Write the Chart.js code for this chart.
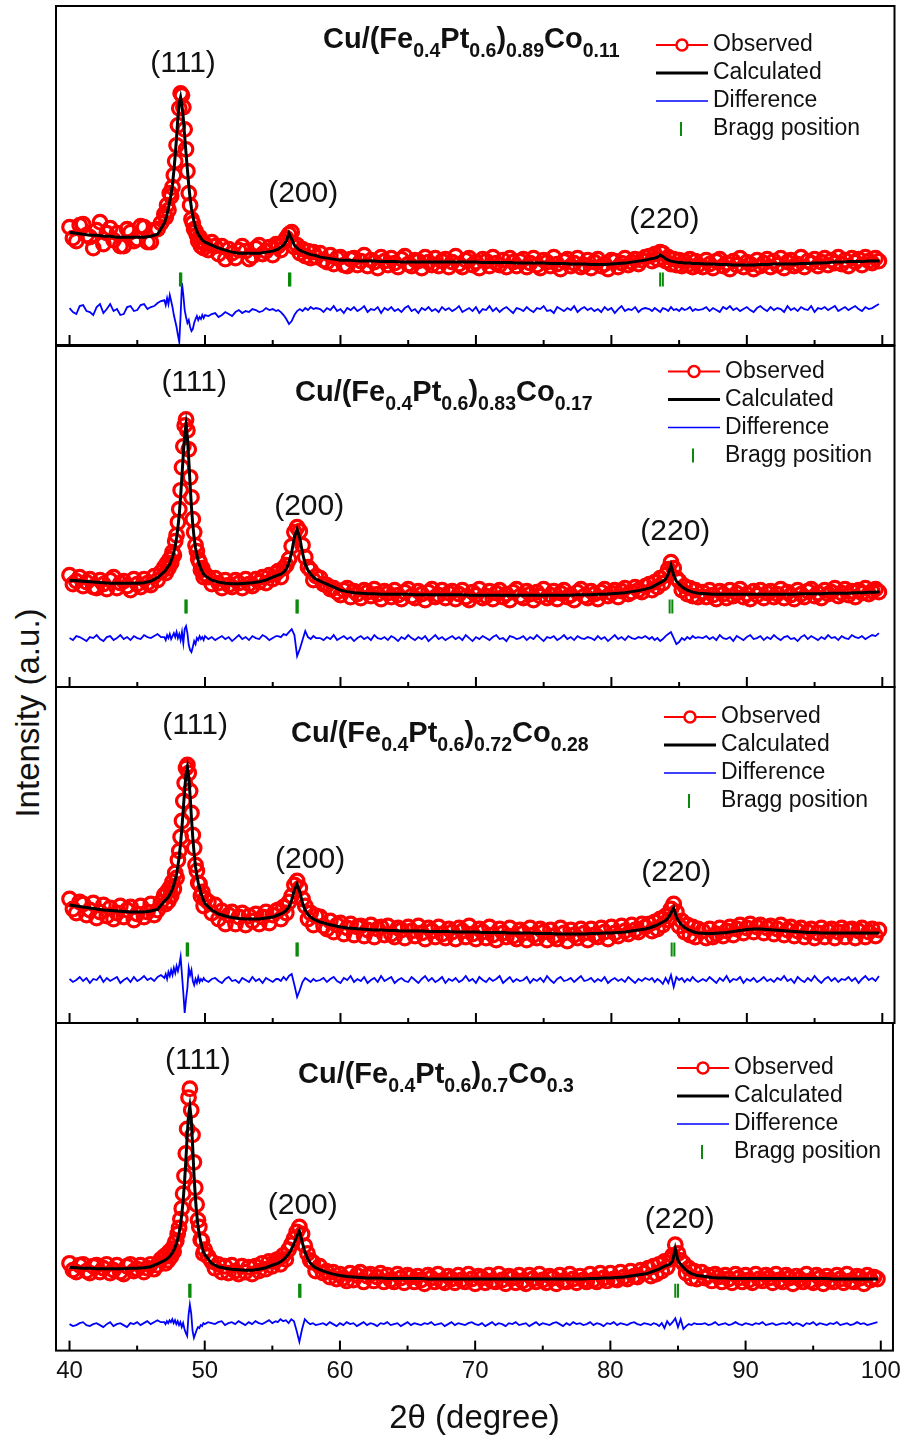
<!DOCTYPE html>
<html>
<head>
<meta charset="utf-8">
<title>XRD Rietveld refinement</title>
<script src="https://cdn.jsdelivr.net/npm/chart.js@4.4.1/dist/chart.umd.min.js"></script>
<style>
  html, body { margin: 0; padding: 0; background: #fff; }
  #page { position: relative; width: 907px; height: 1441px; overflow: hidden; background: #fff; }
  #page canvas { position: absolute; left: 0; }
  #ylabel {
    position: absolute; left: 28px; top: 713px;
    transform: translate(-50%, -50%) rotate(-90deg);
    font: 33px "Liberation Sans", Arial, Helvetica, sans-serif;
    color: #111; white-space: nowrap;
  }
</style>
</head>
<body>
<div id="page">
  <div id="ylabel">Intensity (a.u.)</div>
</div>
<script>
// measured points (2-theta, degree): 0.25 steps, 0.1-0.2 around the reflections
const obsTheta = [
  40, 40.25, 40.5, 40.75, 41, 41.25, 41.5, 41.75, 42, 42.25, 42.5, 42.75, 43, 43.25,
  43.5, 43.75, 44, 44.25, 44.5, 44.75, 45, 45.25, 45.5, 45.75, 46, 46.25, 46.5, 46.75,
  47.0, 47.1, 47.2, 47.3, 47.4, 47.5, 47.6, 47.7, 47.8, 47.9,
  48.0, 48.1, 48.2, 48.3, 48.4, 48.5, 48.6, 48.7, 48.8, 48.9,
  49.0, 49.1, 49.2, 49.3, 49.4, 49.5, 49.6, 49.7, 49.8, 49.9, 50.0,
  50.25, 50.5, 50.75, 51, 51.25, 51.5, 51.75, 52, 52.25, 52.5,
  52.75, 53, 53.25, 53.5, 53.75, 54, 54.25, 54.5, 54.75, 55, 55.25,
  55.4, 55.6, 55.8, 56.0, 56.2, 56.4, 56.6, 56.8, 57.0, 57.2, 57.4, 57.6, 57.8, 58.0, 58.2,
  58.5, 58.75, 59, 59.25, 59.5, 59.75, 60, 60.25, 60.5, 60.75, 61, 61.25, 61.5, 61.75, 62, 62.25, 62.5, 62.75, 63, 63.25,
  63.5, 63.75, 64, 64.25, 64.5, 64.75, 65, 65.25, 65.5, 65.75, 66, 66.25, 66.5, 66.75, 67, 67.25, 67.5, 67.75, 68, 68.25,
  68.5, 68.75, 69, 69.25, 69.5, 69.75, 70, 70.25, 70.5, 70.75, 71, 71.25, 71.5, 71.75, 72, 72.25, 72.5, 72.75, 73, 73.25,
  73.5, 73.75, 74, 74.25, 74.5, 74.75, 75, 75.25, 75.5, 75.75, 76, 76.25, 76.5, 76.75, 77, 77.25, 77.5, 77.75, 78, 78.25,
  78.5, 78.75, 79, 79.25, 79.5, 79.75, 80, 80.25, 80.5, 80.75, 81, 81.25, 81.5, 81.75, 82, 82.25, 82.5,
  82.8, 83.0, 83.2, 83.4, 83.6, 83.8, 84.0, 84.2, 84.4, 84.6, 84.8, 85.0, 85.2, 85.4, 85.6, 85.8, 86.0, 86.2, 86.4,
  86.75, 87, 87.25, 87.5, 87.75, 88, 88.25, 88.5, 88.75, 89, 89.25, 89.5, 89.75, 90, 90.25, 90.5, 90.75, 91, 91.25, 91.5,
  91.75, 92, 92.25, 92.5, 92.75, 93, 93.25, 93.5, 93.75, 94, 94.25, 94.5, 94.75, 95, 95.25, 95.5, 95.75, 96, 96.25, 96.5,
  96.75, 97, 97.25, 97.5, 97.75, 98, 98.25, 98.5, 98.75, 99, 99.25, 99.5, 99.75
];

// fitted profile grid (2-theta, degree)
const calcTheta = [
  40, 40.5, 41, 41.5, 42, 42.5, 43, 43.5, 44, 44.5, 45, 45.5, 46, 46.5,
  47.0, 47.1, 47.2, 47.3, 47.4, 47.5, 47.6, 47.7, 47.8, 47.9,
  48.0, 48.1, 48.2, 48.3, 48.4, 48.5, 48.6, 48.7, 48.8, 48.9,
  49.0, 49.1, 49.2, 49.3, 49.4, 49.5, 49.6, 49.7, 49.8, 49.9, 50.0,
  50.5, 51, 51.5, 52, 52.5, 53, 53.5, 54, 54.5, 55,
  55.4, 55.6, 55.8, 56.0, 56.2, 56.4, 56.6, 56.8, 57.0, 57.2, 57.4, 57.6, 57.8, 58.0, 58.2,
  58.5, 59, 59.5, 60, 60.5, 61, 61.5, 62, 62.5, 63,
  63.5, 64, 64.5, 65, 65.5, 66, 66.5, 67, 67.5, 68,
  68.5, 69, 69.5, 70, 70.5, 71, 71.5, 72, 72.5, 73,
  73.5, 74, 74.5, 75, 75.5, 76, 76.5, 77, 77.5, 78,
  78.5, 79, 79.5, 80, 80.5, 81, 81.5, 82, 82.5,
  82.8, 83.0, 83.2, 83.4, 83.6, 83.8, 84.0, 84.2, 84.4, 84.6, 84.8, 85.0, 85.2, 85.4, 85.6, 85.8, 86.0, 86.2, 86.4,
  87, 87.5, 88, 88.5, 89, 89.5, 90, 90.5, 91, 91.5,
  92, 92.5, 93, 93.5, 94, 94.5, 95, 95.5, 96, 96.5,
  97, 97.5, 98, 98.5, 99, 99.5, 99.8
];

// Cu/(Fe0.4Pt0.6)0.89Co0.11
const obs1 = [
  118, 107, 104, 120, 121, 110, 108, 97, 115, 123, 101, 112, 117, 105,
  112, 99, 99, 116, 113, 104, 106, 119, 118, 103, 103, 115, 116, 122,
  131, 128, 140, 135, 152, 149, 158, 170, 184, 200, 220, 237, 252, 250, 238, 216, 196, 174, 152, 140,
  126, 122, 116, 114, 110, 104, 108, 99, 103, 97, 101,
  95, 103, 99, 91, 99, 86, 96, 92, 87, 95, 99, 94, 86, 89, 97, 100, 91, 94, 98, 90, 101,
  99, 95, 103, 107, 111, 113, 98, 100, 92, 96, 89, 94, 87, 93, 88,
  92, 85, 83, 90, 81, 87, 88, 80, 79, 86, 87, 80, 84, 90, 79, 85, 83, 77, 88, 84,
  80, 87, 82, 78, 86, 89, 81, 79, 85, 84, 77, 88, 83, 80, 87, 79, 84, 86, 78, 83,
  89, 81, 78, 85, 87, 80, 83, 77, 86, 84, 79, 88, 82, 80, 85, 78, 87, 83, 79, 84,
  86, 78, 82, 87, 80, 77, 85, 83, 79, 88, 81, 76, 84, 86, 79, 82, 87, 78, 80, 85,
  77, 83, 86, 79, 81, 76, 85, 84, 78, 82, 87, 80, 83, 86, 81, 85, 88,
  89, 84, 91, 86, 93, 92, 84, 88, 81, 86, 80, 85, 79, 84, 80, 86, 78, 84, 80,
  78, 85, 81, 77, 84, 86, 79, 82, 76, 84, 80, 87, 78, 83, 81, 76, 85, 79, 82, 86,
  78, 84, 80, 87, 77, 83, 85, 79, 81, 88, 78, 84, 82, 86, 79, 83, 87, 80, 85, 82,
  88, 81, 85, 79, 87, 83, 86, 80, 88, 84, 82, 87, 84
];
const calc1 = [
  113, 112, 111, 110, 110, 109, 109, 108, 108, 108, 108, 108, 109, 111,
  122, 126, 131, 137, 144, 151, 161, 174, 190, 208, 228, 242, 248, 240, 227, 209, 192, 176, 160, 147,
  137, 129, 123, 118, 114, 111, 109, 107, 105, 104, 103,
  100, 97, 95, 93, 92, 92, 92, 92, 93, 94,
  96, 98, 100, 104, 112, 106, 100, 97, 95, 93.5, 92.5, 91.5, 90.5, 90, 89.5,
  88, 87, 86, 85, 85, 84.5, 84, 84, 84, 83.5,
  83.5, 83.5, 83, 83, 83, 83, 83, 83, 83, 83,
  83, 83, 83, 83, 82.5, 82.5, 82.5, 82.5, 82.5, 82,
  82, 82, 82, 82, 81.5, 81.5, 81.5, 81, 81, 81,
  80.5, 80.5, 80.5, 81, 81.5, 82, 83, 84, 85,
  86, 86.5, 87, 88, 90, 88.5, 86.5, 85, 84, 83.5, 83, 82.5, 82.5, 82, 82, 82, 81.5, 81.5, 81.5,
  81, 81, 80.5, 80.5, 80, 80, 80, 80, 80.5, 80.5,
  81, 81, 81, 81, 81.5, 81.5, 82, 82, 82.5, 83,
  83, 83.5, 83.5, 83.5, 84, 84, 84
];
const diff1 = [
  37, 33, 31, 39, 40, 34, 33, 30, 38, 41, 32, 36, 41, 34,
  36, 30, 31, 38, 39, 34, 35, 40, 41, 36, 38, 39, 42, 44,
  45, 40, 47, 41, 50, 44, 38, 30, 24, 18, 10, 3, 30, 62, 50, 35, 28, 22, 25, 18,
  14, 16, 22, 26, 29, 25, 28, 26, 30, 27, 30,
  29, 31, 32, 28, 30, 33, 31, 29, 33, 35, 32, 34, 33, 36, 35, 33, 34, 37, 35, 36, 34,
  35, 33, 30, 26, 21, 24, 30, 34, 36, 34, 37, 35, 38, 36, 37,
  36, 33, 37, 35, 39, 34, 36, 32, 37, 35, 38, 34, 36, 39, 33, 36, 35, 38, 32, 37,
  35, 38, 34, 36, 33, 37, 39, 34, 36, 32, 37, 35, 38, 34, 36, 33, 38, 35, 37, 34,
  36, 39, 33, 35, 37, 34, 38, 32, 36, 35, 39, 34, 37, 33, 36, 38, 35, 32, 37, 36,
  34, 38, 35, 33, 37, 36, 39, 34, 35, 32, 38, 36, 34, 37, 35, 39, 33, 36, 38, 35,
  37, 34, 36, 33, 38, 35, 37, 32, 36, 39, 34, 36, 35, 38, 33, 36, 37,
  36, 34, 37, 35, 33, 37, 36, 34, 38, 35, 36, 34, 37, 35, 36, 38, 34, 36, 35,
  36, 38, 34, 37, 35, 33, 38, 36, 39, 35, 37, 34, 36, 38, 35, 33, 37, 39, 36, 34,
  38, 35, 37, 36, 33, 39, 35, 37, 34, 38, 36, 35, 39, 33, 37, 36, 38, 35, 37, 39,
  34, 36, 38, 35, 37, 39, 36, 34, 38, 36, 37, 39, 41
];
const bragg1 = [48.15, 48.25, 56.2, 56.3, 83.6, 83.8];

// Cu/(Fe0.4Pt0.6)0.83Co0.17
const obs2 = [
  112, 103, 106, 110, 101, 105, 108, 100, 99, 107, 103, 98, 107, 110,
  99, 104, 106, 101, 97, 108, 103, 100, 108, 104, 102, 111, 107, 115,
  120, 114, 124, 119, 128, 124, 135, 132, 146, 152, 165, 178, 197, 220, 241, 262, 268, 257, 238, 210,
  190, 168, 155, 142, 136, 128, 125, 117, 119, 110, 113,
  110, 103, 109, 104, 99, 107, 102, 100, 107, 104, 99, 108, 103, 101, 108, 105, 110, 104, 112, 108, 114,
  116, 110, 119, 122, 128, 141, 155, 160, 156, 142, 130, 120, 117, 107, 111,
  109, 103, 102, 98, 99, 95, 92, 97, 99, 90, 96, 93, 89, 97, 95, 91, 98, 93, 88, 96,
  94, 90, 97, 92, 88, 95, 98, 91, 89, 96, 93, 87, 95, 98, 90, 92, 97, 89, 94, 96,
  88, 93, 97, 90, 87, 95, 92, 98, 89, 91, 96, 88, 94, 97, 90, 93, 87, 95, 98, 91,
  89, 96, 93, 87, 95, 91, 98, 89, 92, 96, 88, 94, 97, 90, 92, 87, 95, 98, 91, 89,
  96, 93, 88, 95, 98, 91, 94, 97, 90, 96, 99, 93, 95, 100, 97, 95, 101,
  103, 97, 105, 100, 109, 104, 112, 118, 125, 119, 109, 106, 97, 101, 93, 99, 91, 97, 90,
  95, 90, 97, 92, 88, 96, 93, 89, 97, 91, 94, 98, 90, 93, 88, 96, 92, 97, 89, 94,
  96, 90, 93, 98, 89, 95, 92, 88, 97, 93, 90, 96, 98, 91, 94, 89, 97, 93, 95, 99,
  91, 94, 98, 92, 96, 90, 97, 94, 99, 93, 96, 98, 95
];
const calc2 = [
  107, 106.5, 106, 105.5, 105, 104.5, 104, 104, 104, 104, 104, 104.5, 106, 109.5,
  115.5, 117, 119, 121, 123, 126.5, 130, 135, 141, 149.5, 159.5, 173, 191, 212, 233.5, 252.5, 263, 250, 228, 202.5,
  180, 162, 149, 139.5, 132, 126.5, 122, 118.5, 115.5, 113, 111.5,
  107, 105, 104, 103.5, 103.5, 104, 104.5, 105.5, 107, 110,
  112, 113, 115, 118, 124.5, 135, 150, 158, 149, 134, 123, 117, 113, 110, 108,
  106, 103, 100, 97, 95.5, 94.5, 94, 93.5, 93.5, 93,
  93, 93, 93, 93, 92.5, 92.5, 92.5, 92.5, 92.5, 92.5,
  92.5, 92.5, 92, 92, 92, 92, 92, 92, 92, 92,
  92, 92, 92, 92, 92, 92, 92, 92, 92.5, 92.5,
  92.5, 93, 93, 93.5, 94, 94.5, 95.5, 96.5, 98,
  99, 100, 101.5, 103, 104.5, 106, 108, 113, 122, 112, 106, 103, 100.5, 98.5, 97, 96, 95, 94.5, 94,
  93.5, 93, 93, 93, 93, 93, 93, 93, 93, 93,
  93, 93, 93, 93, 93.5, 93.5, 93.5, 93.5, 94, 94,
  94, 94, 94.5, 94.5, 95, 95, 95.5
];
const diff2 = [
  49, 47, 51, 50, 48, 46, 50, 49, 52, 48, 46, 50, 51, 47,
  49, 52, 48, 50, 47, 51, 49, 48, 52, 50, 49, 51, 53, 50,
  50, 47, 52, 49, 53, 48, 51, 54, 50, 55, 49, 53, 47, 55, 44, 58, 61, 54, 42, 37,
  35, 40, 46, 43, 49, 47, 51, 48, 50, 47, 51,
  48, 50, 47, 49, 51, 48, 50, 46, 49, 52, 48, 50, 47, 51, 49, 48, 52, 50, 47, 49, 51,
  51, 50, 53, 52, 55, 58, 52, 31, 38, 47, 56, 50, 48, 51, 49,
  49, 47, 50, 48, 52, 47, 49, 51, 48, 50, 46, 49, 51, 48, 50, 47, 52, 49, 48, 50,
  47, 51, 49, 46, 50, 48, 52, 49, 47, 50, 48, 51, 46, 49, 52, 48, 50, 47, 49, 51,
  48, 50, 47, 52, 49, 46, 50, 48, 51, 49, 47, 50, 52, 48, 49, 46, 51, 50, 48, 49,
  51, 47, 50, 48, 52, 49, 46, 50, 49, 51, 47, 49, 52, 48, 50, 47, 51, 49, 48, 50,
  49, 47, 51, 48, 50, 46, 49, 52, 48, 50, 47, 51, 49, 48, 50, 49, 51,
  48, 50, 47, 49, 46, 48, 51, 53, 55, 49, 43, 45, 49, 47, 50, 48, 51, 49, 50,
  49, 51, 48, 50, 47, 52, 49, 48, 50, 46, 51, 49, 47, 50, 52, 48, 49, 51, 47, 50,
  48, 52, 49, 47, 50, 51, 48, 49, 46, 50, 52, 48, 51, 49, 47, 50, 48, 52, 49, 50,
  47, 51, 49, 48, 52, 50, 49, 51, 48, 50, 52, 51, 54
];
const bragg2 = [48.55, 48.65, 56.75, 56.85, 84.3, 84.5];

// Cu/(Fe0.4Pt0.6)0.72Co0.28
const obs3 = [
  124, 114, 110, 121, 119, 108, 113, 120, 105, 111, 118, 107, 115, 104,
  110, 117, 106, 113, 116, 103, 109, 117, 106, 111, 119, 108, 113, 121,
  128, 119, 131, 122, 135, 127, 141, 134, 150, 145, 163, 172, 186, 202, 222, 240, 255, 258, 250, 232,
  210, 188, 175, 158, 152, 140, 139, 127, 131, 117, 124,
  121, 110, 118, 104, 112, 99, 108, 111, 99, 106, 110, 98, 107, 102, 109, 99, 106, 111, 100, 108, 112,
  113, 104, 116, 110, 121, 127, 138, 142, 135, 124, 117, 104, 110, 98, 107,
  106, 97, 94, 102, 91, 98, 100, 89, 95, 99, 88, 96, 97, 87, 93, 98, 86, 94, 96, 88,
  97, 89, 86, 95, 93, 85, 96, 92, 87, 97, 90, 84, 95, 92, 86, 96, 89, 85, 94, 91,
  84, 95, 92, 86, 97, 89, 84, 94, 91, 85, 96, 88, 83, 94, 90, 86, 95, 87, 84, 93,
  90, 83, 95, 88, 85, 94, 91, 83, 93, 87, 84, 95, 90, 82, 93, 88, 85, 94, 90, 83,
  94, 88, 86, 95, 91, 84, 96, 90, 87, 97, 92, 89, 98, 93, 91, 99, 96,
  99, 92, 101, 94, 104, 98, 107, 103, 114, 119, 111, 97, 102, 91, 98, 88, 96, 86, 94,
  92, 85, 94, 86, 89, 95, 87, 92, 96, 88, 94, 98, 90, 95, 99, 91, 96, 98, 90, 95,
  97, 89, 94, 98, 88, 93, 96, 87, 92, 95, 86, 91, 94, 85, 90, 95, 86, 92, 94, 85,
  91, 95, 86, 93, 94, 85, 92, 95, 86, 91, 94, 87, 93
];
const calc3 = [
  118, 117, 116, 115, 114, 113, 112.5, 112, 111.5, 111, 111, 111, 112, 113.5,
  122, 123, 124.5, 126, 128.5, 131, 134, 138, 143, 149, 157, 167, 180, 196, 214.5, 233.5, 249, 256, 246, 227,
  205, 185, 169, 156.5, 147.5, 140.5, 135, 130, 126, 122.5, 119.5,
  113, 109, 107, 105.5, 104.5, 104, 104, 104, 105, 106,
  108, 109, 110.5, 112.5, 116, 123, 133, 139, 131, 120, 113, 108.5, 106, 104, 102.5,
  101, 99, 97.5, 96, 95, 94.5, 94, 93.5, 93, 93,
  92.5, 92.5, 92, 92, 92, 92, 91.5, 91.5, 91.5, 91.5,
  91, 91, 91, 91, 90.5, 90.5, 90.5, 90.5, 90, 90,
  90, 90, 89.5, 89.5, 89.5, 89, 89, 89, 89, 89,
  89.5, 89.5, 90, 90, 90.5, 91, 92, 93, 94,
  95, 96, 97, 98, 99.5, 101, 102.5, 105, 110, 115, 106, 101, 98, 95.5, 94, 92.5, 91.5, 90.5, 90,
  89.5, 89.5, 90, 90.5, 91.5, 92.5, 93.5, 94, 94, 93.5,
  93, 92.5, 92, 91.5, 91, 90.5, 90.5, 90, 90, 90,
  90, 90, 90, 90, 90, 90, 90
];
const diff3 = [
  44, 41, 43, 46, 42, 45, 40, 44, 43, 47, 41, 45, 42, 44,
  46, 40, 43, 45, 41, 46, 42, 44, 47, 43, 45, 42, 46, 48,
  45, 49, 44, 51, 47, 53, 48, 55, 50, 57, 52, 58, 66, 48, 30, 10, 24, 35, 55, 48,
  53, 42, 38, 44, 40, 46, 41, 44, 42, 45, 43,
  41, 44, 45, 42, 40, 44, 46, 42, 43, 40, 45, 43, 41, 46, 42, 44, 40, 45, 43, 41, 44,
  44, 42, 46, 43, 47, 49, 38, 26, 33, 41, 45, 43, 41, 44, 42,
  43, 45, 41, 44, 46, 42, 40, 45, 43, 47, 41, 44, 42, 46, 40, 43, 45, 41, 47, 42,
  44, 46, 40, 43, 45, 42, 41, 46, 43, 40, 44, 47, 42, 45, 41, 43, 46, 40, 44, 42,
  45, 41, 43, 47, 42, 44, 40, 46, 43, 41, 45, 42, 44, 47, 40, 43, 46, 41, 44, 42,
  43, 46, 40, 44, 42, 45, 41, 47, 43, 40, 44, 46, 42, 43, 45, 41, 44, 47, 42, 43,
  45, 41, 44, 42, 46, 40, 43, 45, 42, 44, 41, 46, 43, 40, 44, 42, 45,
  43, 45, 41, 44, 42, 39, 45, 40, 48, 36, 46, 43, 45, 41, 44, 42, 46, 43, 41,
  44, 42, 46, 43, 40, 45, 42, 47, 41, 44, 43, 46, 40, 44, 42, 45, 41, 43, 46, 42,
  44, 41, 45, 43, 47, 42, 44, 40, 46, 43, 41, 45, 42, 47, 43, 40, 44, 46, 42, 45,
  41, 44, 43, 46, 42, 45, 40, 44, 47, 43, 45, 42, 47
];
const bragg3 = [48.65, 48.75, 56.75, 56.85, 84.45, 84.65];

// Cu/(Fe0.4Pt0.6)0.7Co0.3
const obs4 = [
  89, 82, 80, 87, 88, 81, 79, 86, 87, 80, 84, 88, 79, 82,
  87, 80, 78, 86, 88, 81, 83, 87, 80, 84, 88, 83, 87, 93,
  96, 89, 98, 92, 101, 96, 104, 101, 110, 112, 119, 125, 134, 145, 160, 178, 201, 226, 258, 267,
  245, 220, 192, 166, 149, 133, 126, 113, 112, 99, 103,
  96, 91, 84, 88, 80, 86, 79, 87, 81, 78, 86, 80, 85, 78, 86, 81, 89, 83, 91, 86, 92,
  93, 88, 97, 93, 103, 108, 114, 121, 126, 119, 107, 99, 92, 90, 81,
  86, 79, 81, 75, 80, 73, 78, 74, 71, 79, 72, 77, 80, 70, 76, 78, 71, 75, 79, 70,
  77, 72, 70, 78, 74, 69, 77, 75, 70, 76, 72, 68, 77, 74, 70, 78, 71, 69, 76, 73,
  69, 77, 72, 70, 78, 73, 68, 76, 74, 69, 77, 71, 70, 78, 72, 68, 76, 74, 69, 77,
  71, 68, 77, 73, 70, 78, 72, 69, 76, 74, 68, 77, 71, 70, 78, 73, 69, 76, 72, 70,
  78, 72, 70, 79, 74, 71, 79, 73, 72, 80, 75, 73, 81, 76, 75, 82, 79,
  84, 76, 86, 78, 88, 81, 91, 85, 93, 97, 108, 99, 92, 89, 79, 84, 74, 81, 73,
  80, 74, 77, 71, 78, 75, 70, 77, 73, 69, 78, 74, 70, 77, 72, 69, 78, 73, 71, 77,
  74, 69, 78, 72, 70, 77, 74, 68, 76, 73, 70, 78, 71, 69, 77, 74, 68, 76, 72, 70,
  77, 73, 69, 78, 71, 70, 76, 74, 68, 77, 72, 75, 73
];
const calc4 = [
  85, 84.5, 84, 84, 83.5, 83.5, 83.5, 83.5, 83.5, 84, 84, 84.5, 85.5, 88.5,
  91.7, 92.5, 93.5, 94.6, 96, 97.6, 99.6, 102, 105, 108.8, 113.5, 119.6, 127.7, 138.3, 152.3, 170.5, 193, 218.5, 240, 249,
  237, 210, 181, 157.5, 140, 127.5, 118, 111, 105.5, 101, 98,
  89, 85.5, 84, 83, 82.5, 82, 82, 83, 84.5, 87,
  89, 90.5, 92.5, 95, 98.5, 103, 109, 116, 122, 111, 101, 94, 89.5, 86.5, 84.5,
  82.5, 80, 78, 76.5, 75.5, 75, 74.5, 74, 74, 74,
  73.5, 73.5, 73.5, 73.5, 73.5, 73.5, 73, 73, 73, 73,
  73, 73, 73, 73, 73, 73, 73, 73, 73, 73,
  73, 73, 73, 73, 73, 73, 73, 73, 73, 73,
  73.5, 73.5, 74, 74, 74.5, 75, 76, 77, 78,
  79, 80, 81, 82, 83, 84.5, 86, 87, 88, 91, 104, 92, 88, 85, 82, 80, 78.5, 77.5, 76.5,
  75.5, 74.5, 74, 74, 73.5, 73.5, 73.5, 73.5, 73.5, 73.5,
  73.5, 73.5, 73.5, 73.5, 73.5, 73.5, 73.5, 73.5, 73.5, 73,
  73, 73, 73, 73, 73, 73, 73
];
const diff4 = [
  27, 25, 26, 28, 29, 26, 25, 27, 28, 26, 24, 27, 29, 25,
  27, 28, 26, 24, 28, 27, 29, 26, 28, 30, 27, 29, 31, 29,
  29, 27, 30, 28, 31, 29, 32, 28, 31, 27, 30, 26, 29, 24, 28, 22, 18, 15, 36, 47,
  38, 20, 13, 17, 21, 24, 23, 26, 25, 28, 27,
  29, 28, 27, 29, 30, 26, 28, 29, 27, 30, 28, 26, 29, 27, 30, 28, 27, 29, 31, 28, 30,
  29, 32, 30, 31, 28, 32, 30, 20, 9, 22, 32, 29, 27, 28, 26,
  27, 28, 26, 29, 27, 25, 28, 26, 29, 27, 28, 25, 27, 29, 26, 28, 27, 25, 28, 27,
  29, 26, 27, 28, 25, 27, 29, 26, 28, 27, 26, 28, 27, 29, 26, 27, 28, 25, 27, 29,
  26, 28, 27, 26, 28, 29, 27, 26, 28, 25, 27, 29, 26, 28, 27, 25, 28, 27, 29, 26,
  27, 28, 25, 27, 29, 26, 28, 27, 26, 28, 29, 27, 25, 28, 26, 29, 27, 28, 26, 27,
  29, 26, 28, 27, 25, 28, 27, 29, 26, 28, 27, 26, 28, 29, 27, 26, 28,
  27, 26, 28, 27, 25, 28, 23, 30, 26, 29, 33, 24, 32, 22, 25, 27, 26, 28, 27,
  27, 28, 26, 27, 29, 26, 27, 28, 26, 27, 29, 27, 26, 28, 27, 26, 28, 27, 29, 26,
  27, 28, 26, 27, 28, 27, 29, 26, 28, 27, 25, 28, 27, 29, 26, 28, 27, 26, 28, 27,
  29, 26, 27, 28, 26, 27, 29, 27, 28, 26, 27, 28, 29
];
const bragg4 = [48.85, 48.95, 56.98, 57.08, 84.8, 85.0];

const sampleNames = [
  'Cu/(Fe_{0.4}Pt_{0.6})_{0.89}Co_{0.11}',
  'Cu/(Fe_{0.4}Pt_{0.6})_{0.83}Co_{0.17}',
  'Cu/(Fe_{0.4}Pt_{0.6})_{0.72}Co_{0.28}',
  'Cu/(Fe_{0.4}Pt_{0.6})_{0.7}Co_{0.3}'
];
const hklLabels = ['(111)', '(200)', '(220)'];
const seriesNames = ['Observed', 'Calculated', 'Difference', 'Bragg position'];
const majorTicks = [40, 50, 60, 70, 80, 90, 100];
const minorTicks = [45, 55, 65, 75, 85, 95];

// page layout of the four stacked frames (px) and their annotations
const FONT = '"Liberation Sans", Arial, Helvetica, sans-serif';
const PAGE_W = 907, PAGE_H = 1441;
const PLOT_LEFT = 56, PLOT_RIGHT = 894.5;
const X_MIN = 39, X_MAX = 100.9;

const panels = [
  { top: 6, bottom: 345.5, obs: obs1, calc: calc1, diff: diff1, bragg: bragg1, braggY: 65.5,
    titleAt: [323, 48], legendAt: [656, 45], hklAt: [[48.38, 63.5], [57.25, 194], [83.91, 220]] },
  { top: 345.5, bottom: 687, obs: obs2, calc: calc2, diff: diff2, bragg: bragg2, braggY: 80.5,
    titleAt: [295, 400], legendAt: [668, 371], hklAt: [[49.2, 382], [57.69, 506], [84.72, 531]] },
  { top: 687, bottom: 1023, obs: obs3, calc: calc3, diff: diff3, bragg: bragg3, braggY: 73.5,
    titleAt: [291, 742], legendAt: [664, 717], hklAt: [[49.27, 726], [57.76, 860], [84.79, 872.5]] },
  { top: 1023, bottom: 1357, obs: obs4, calc: calc4, diff: diff4, bragg: bragg4, braggY: 61,
    titleAt: [298, 1083], legendAt: [677, 1068], hklAt: [[49.49, 1061], [57.25, 1206], [85.13, 1219.5]] }
];

const RED = '#ff0000', BLUE = '#0000ff', GREEN = '#0a8a0a', INK = '#111';

function drawFormula(ctx, text, x, y) {
  // segments alternate plain / subscript: "Fe_{0.4}" -> "Fe", "0.4"
  const parts = text.split(/_\{([^}]*)\}/);
  ctx.textAlign = 'left';
  ctx.textBaseline = 'alphabetic';
  parts.forEach((part, i) => {
    if (!part) return;
    const sub = i % 2 === 1;
    ctx.font = sub ? 'bold 19.5px ' + FONT : 'bold 29px ' + FONT;
    ctx.fillText(part, x, y + (sub ? 9 : 0));
    x += ctx.measureText(part).width;
  });
}

function strokeLine(ctx, x1, y1, x2, y2) {
  ctx.beginPath();
  ctx.moveTo(x1, y1);
  ctx.lineTo(x2, y2);
  ctx.stroke();
}

const panelDecor = {
  id: 'panelDecor',
  afterDraw(chart, args, opts) {
    const p = opts.panel;
    const dy = opts.canvasTop;
    const ctx = chart.ctx;
    const area = chart.chartArea;
    const xs = chart.scales.x;
    ctx.save();

    // frame
    ctx.strokeStyle = '#000';
    ctx.lineWidth = 2;
    ctx.strokeRect(area.left, area.top, area.right - area.left, area.bottom - area.top);

    // inward ticks on the bottom edge
    majorTicks.forEach(v => {
      const x = xs.getPixelForValue(v);
      strokeLine(ctx, x, area.bottom, x, area.bottom - 10);
    });
    minorTicks.forEach(v => {
      const x = xs.getPixelForValue(v);
      strokeLine(ctx, x, area.bottom, x, area.bottom - 5);
    });

    // reflection labels
    ctx.fillStyle = INK;
    ctx.font = '30px ' + FONT;
    ctx.textAlign = 'center';
    ctx.textBaseline = 'middle';
    p.hklAt.forEach(([deg, y], i) => {
      ctx.fillText(hklLabels[i], xs.getPixelForValue(deg), y - dy);
    });

    // sample composition
    drawFormula(ctx, opts.name, p.titleAt[0], p.titleAt[1] - dy);

    // legend
    const lx = p.legendAt[0];
    const tx = lx + 57;
    ctx.font = '23px ' + FONT;
    ctx.textAlign = 'left';
    ctx.textBaseline = 'middle';
    chart.data.datasets.forEach((ds, i) => {
      const y = p.legendAt[1] + i * 28 - dy;
      if (i === 0) {
        ctx.strokeStyle = RED; ctx.lineWidth = 2;
        strokeLine(ctx, lx, y, lx + 52, y);
        ctx.beginPath();
        ctx.arc(lx + 26, y, 5.5, 0, Math.PI * 2);
        ctx.fillStyle = '#fff';
        ctx.fill();
        ctx.lineWidth = 2.5;
        ctx.stroke();
      } else if (i === 1) {
        ctx.strokeStyle = '#000'; ctx.lineWidth = 3;
        strokeLine(ctx, lx, y, lx + 52, y);
      } else if (i === 2) {
        ctx.strokeStyle = BLUE; ctx.lineWidth = 1.5;
        strokeLine(ctx, lx, y, lx + 52, y);
      } else {
        ctx.strokeStyle = GREEN; ctx.lineWidth = 2;
        strokeLine(ctx, lx + 25, y - 7, lx + 25, y + 7);
      }
      ctx.fillStyle = INK;
      ctx.fillText(ds.label, tx, y);
    });

    ctx.restore();
  }
};

Chart.defaults.font.family = FONT;
Chart.defaults.color = INK;

const page = document.getElementById('page');
const pairs = (xs, ys) => xs.map((t, i) => ({ x: t, y: ys[i] }));

panels.forEach((p, idx) => {
  const last = idx === panels.length - 1;
  const canvasTop = p.top - 2;
  const canvasH = last ? PAGE_H - canvasTop : (p.bottom - p.top) + 4;

  const canvas = document.createElement('canvas');
  canvas.width = PAGE_W;
  canvas.height = canvasH;
  canvas.style.top = canvasTop + 'px';
  page.appendChild(canvas);

  new Chart(canvas.getContext('2d'), {
    type: 'line',
    data: {
      datasets: [
        {
          label: seriesNames[0], data: pairs(obsTheta, p.obs), order: 3,
          showLine: false, pointStyle: 'circle', pointRadius: 6.8,
          pointBorderWidth: 3.2, pointBorderColor: RED, pointBackgroundColor: 'rgba(255,255,255,0)'
        },
        {
          label: seriesNames[1], data: pairs(calcTheta, p.calc), order: 0,
          borderColor: '#000', borderWidth: 3, pointRadius: 0, tension: 0
        },
        {
          label: seriesNames[2], data: pairs(obsTheta, p.diff), order: 2,
          borderColor: BLUE, borderWidth: 1.8, pointRadius: 0, tension: 0
        },
        {
          label: seriesNames[3], data: p.bragg.map(v => ({ x: v, y: p.braggY })), order: 1,
          showLine: false, pointStyle: 'line', pointRotation: 90, pointRadius: 7,
          pointBorderColor: GREEN, pointBorderWidth: 2
        }
      ]
    },
    options: {
      responsive: false,
      animation: false,
      devicePixelRatio: 1,
      events: [],
      layout: {
        autoPadding: false,
        padding: { left: PLOT_LEFT, right: PAGE_W - PLOT_RIGHT, top: 2, bottom: last ? 0 : 2 }
      },
      plugins: {
        legend: { display: false },
        tooltip: { enabled: false },
        panelDecor: { panel: p, canvasTop: canvasTop, name: sampleNames[idx] }
      },
      scales: {
        x: {
          type: 'linear',
          min: X_MIN,
          max: X_MAX,
          display: last,
          grid: { display: false, drawTicks: false },
          border: { display: false },
          ticks: {
            stepSize: 10,
            includeBounds: false,
            autoSkip: false,
            maxRotation: 0,
            padding: 6,
            color: INK,
            font: { size: 24 }
          },
          title: {
            display: true,
            text: '2θ (degree)',
            color: INK,
            font: { size: 33 },
            padding: { top: 8, bottom: 2 }
          }
        },
        y: {
          type: 'linear',
          display: false,
          min: 0,
          max: p.bottom - p.top
        }
      }
    },
    plugins: [panelDecor]
  });
});
</script>
</body>
</html>
